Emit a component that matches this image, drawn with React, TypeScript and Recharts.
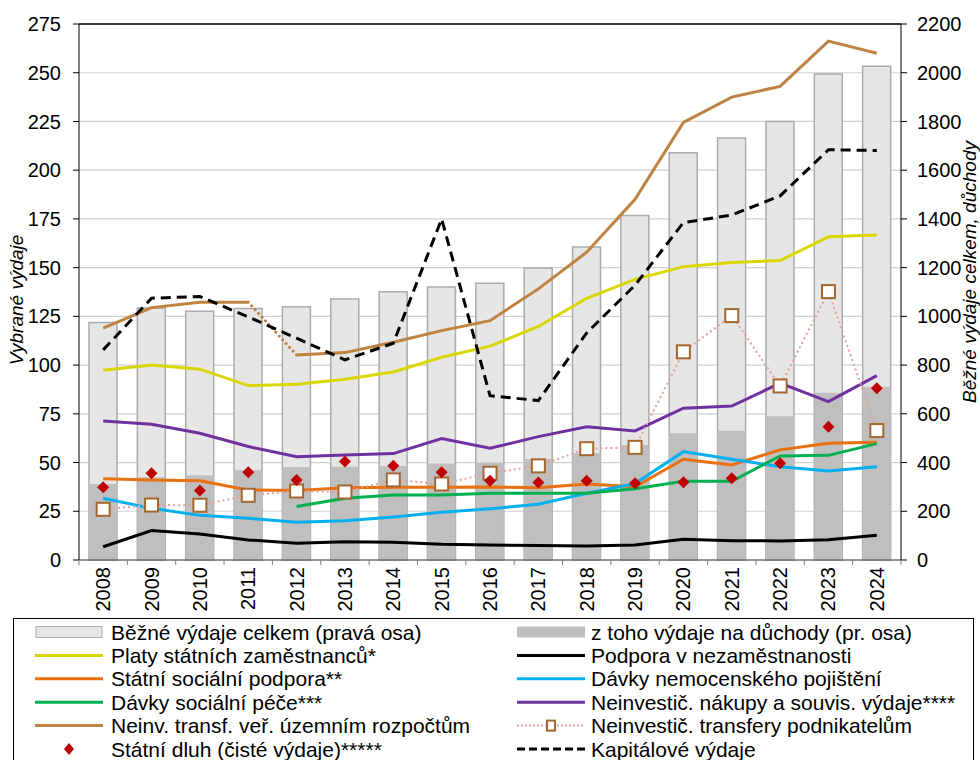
import {
  ComposedChart,
  Bar,
  Line,
  XAxis,
  YAxis,
  CartesianGrid,
  ReferenceLine,
} from "recharts";

const FONT = "Arial, 'Liberation Sans', sans-serif";

const years = [
  "2008", "2009", "2010", "2011", "2012", "2013", "2014", "2015", "2016",
  "2017", "2018", "2019", "2020", "2021", "2022", "2023", "2024",
];

// pravá osa
const totalCurrent = [975, 1034, 1021, 1032, 1039, 1071, 1101, 1121, 1136, 1198, 1285, 1414, 1672, 1732, 1800, 1995, 2027];
const pensions = [312, 340, 348, 368, 382, 383, 386, 396, 400, 415, 438, 472, 520, 531, 590, 686, 711];

// levá osa
const salaries = [97.4, 100.1, 97.9, 89.5, 90.2, 92.7, 96.5, 104, 109.7, 119.8, 134.3, 144, 150.5, 152.6, 153.6, 165.8, 166.8];
const unemployment = [6.8, 15.1, 13.3, 10.3, 8.6, 9.4, 9.1, 8.1, 7.7, 7.5, 7.2, 7.7, 10.6, 9.9, 9.8, 10.4, 12.7];
const stateSocial = [41.7, 41.1, 40.7, 35.9, 35.6, 37.1, 37.3, 37.3, 37.5, 37.1, 39.0, 37.6, 51.7, 48.8, 56.5, 59.9, 60.4];
const sickness = [31.7, 26.5, 22.9, 21.4, 19.4, 20.2, 22.1, 24.5, 26.3, 28.6, 34.2, 39.2, 55.6, 51.7, 47.9, 45.7, 47.9];
const socialCare = [null, null, null, null, 27.4, 31.7, 33.4, 33.4, 34.2, 34.2, 34.2, 36.6, 40.4, 40.4, 53.4, 53.7, 59.7];
const purchases = [71.3, 69.6, 65, 58.2, 53, 53.9, 54.6, 62.3, 57.3, 63.3, 68.4, 66.2, 77.9, 79, 90.7, 81.3, 94.6];
const territorialOld = [119, 129.5, 132.3, 132.3, null, null, null, null, null, null, null, null, null, null, null, null, null];
const territorialNew = [null, null, null, null, 105.2, 106.4, 111.7, 117.7, 122.8, 139.1, 157.9, 185.1, 224.5, 237.5, 243, 266.2, 260];
const territorialLink = [null, null, null, 132.3, 105.2, null, null, null, null, null, null, null, null, null, null, null, null];
const businessTransfers = [26, 28.2, 28.1, 33.2, 35.4, 34.9, 41.1, 39, 44.5, 48.3, 57.1, 57.8, 106.8, 125.4, 89.3, 137.7, 66.4];
const debt = [37.3, 44.5, 35.6, 45, 41.1, 50.5, 48.4, 45, 40.6, 39.7, 40.6, 39.4, 39.9, 41.9, 49.6, 68.4, 88.1];
const capital = [107.8, 134.3, 135.2, 124.7, 113.8, 102.7, 111.2, 175, 84.3, 81.8, 116.5, 141, 173.1, 177, 186.8, 210.5, 210.1];

const leftTicks = [0, 25, 50, 75, 100, 125, 150, 175, 200, 225, 250, 275];
const rightTicks = [0, 200, 400, 600, 800, 1000, 1200, 1400, 1600, 1800, 2000, 2200];

const data = years.map((year, i) => ({
  year,
  total: totalCurrent[i],
  pensions: pensions[i],
  salaries: salaries[i],
  unemployment: unemployment[i],
  stateSocial: stateSocial[i],
  sickness: sickness[i],
  socialCare: socialCare[i],
  purchases: purchases[i],
  territorialOld: territorialOld[i],
  territorialNew: territorialNew[i],
  territorialLink: territorialLink[i],
  businessTransfers: businessTransfers[i],
  debt: debt[i],
  capital: capital[i],
}));

const C = {
  light: "#E6E6E6",
  lightBorder: "#ABABAB",
  dark: "#BFBFBF",
  yellow: "#D8D800",
  black: "#000000",
  orange: "#E8700F",
  blue: "#00B0F0",
  green: "#00B050",
  purple: "#7030A0",
  brown: "#BE8241",
  pink: "#E6A0A0",
  squareBorder: "#A5662E",
  red: "#C00000",
};

const PLOT_LEFT = 79;
const PLOT_RIGHT = 901;
const BAND = (PLOT_RIGHT - PLOT_LEFT) / years.length;

const YearTick = (props: any) => {
  const { x, y, payload, index } = props;
  return (
    <g>
      <line x1={x - BAND / 2} x2={x - BAND / 2} y1={y - 8} y2={y - 3} stroke="#808080" />
      {index === years.length - 1 && (
        <line x1={x + BAND / 2} x2={x + BAND / 2} y1={y - 8} y2={y - 3} stroke="#808080" />
      )}
      <text
        transform={`translate(${x},${y - 1}) rotate(-90)`}
        textAnchor="end"
        dominantBaseline="central"
        fontSize={20}
        fontFamily={FONT}
        fill="#000"
      >
        {payload.value}
      </text>
    </g>
  );
};

const SquareDot = (props: any) => {
  const { cx, cy, index } = props;
  if (cx == null || cy == null) return <g key={`sq-${index}`} />;
  return (
    <rect
      key={`sq-${index}`}
      x={cx - 6.5}
      y={cy - 6.5}
      width={13}
      height={13}
      fill="#fff"
      stroke={C.squareBorder}
      strokeWidth={2}
    />
  );
};

const DiamondDot = (props: any) => {
  const { cx, cy, index } = props;
  if (cx == null || cy == null) return <g key={`dm-${index}`} />;
  const r = 6;
  return (
    <path
      key={`dm-${index}`}
      d={`M${cx},${cy - r} L${cx + r},${cy} L${cx},${cy + r} L${cx - r},${cy} Z`}
      fill={C.red}
    />
  );
};

type LegendItem = { label: string; kind: string; color: string };

const legendLeft: LegendItem[] = [
  { label: "Běžné výdaje celkem (pravá osa)", kind: "barLight", color: C.light },
  { label: "Platy státních zaměstnanců*", kind: "line", color: C.yellow },
  { label: "Státní sociální podpora**", kind: "line", color: C.orange },
  { label: "Dávky sociální péče***", kind: "line", color: C.green },
  { label: "Neinv. transf. veř. územním rozpočtům", kind: "line", color: C.brown },
  { label: "Státní dluh (čisté výdaje)*****", kind: "diamond", color: C.red },
];

const legendRight: LegendItem[] = [
  { label: "z toho výdaje na důchody (pr. osa)", kind: "barDark", color: C.dark },
  { label: "Podpora v nezaměstnanosti", kind: "line", color: C.black },
  { label: "Dávky nemocenského pojištění", kind: "line", color: C.blue },
  { label: "Neinvestič. nákupy a souvis. výdaje****", kind: "line", color: C.purple },
  { label: "Neinvestič. transfery podnikatelům", kind: "square", color: C.pink },
  { label: "Kapitálové výdaje", kind: "dashed", color: C.black },
];

const Swatch = ({ item, x, y }: { item: LegendItem; x: number; y: number }) => {
  const w = 68;
  switch (item.kind) {
    case "barLight":
      return <rect x={x + 1} y={y - 5.5} width={w - 2} height={11} fill={C.light} stroke={C.lightBorder} />;
    case "barDark":
      return <rect x={x} y={y - 5.5} width={w} height={11} fill={C.dark} />;
    case "diamond":
      return (
        <path
          d={`M${x + w / 2},${y - 6} L${x + w / 2 + 5},${y} L${x + w / 2},${y + 6} L${x + w / 2 - 5},${y} Z`}
          fill={C.red}
        />
      );
    case "square":
      return (
        <g>
          <line x1={x} x2={x + w} y1={y} y2={y} stroke={C.pink} strokeWidth={2} strokeDasharray="2 2" />
          <rect x={x + w / 2 - 4} y={y - 5} width={8} height={10} fill="#fff" stroke={C.squareBorder} strokeWidth={2} />
        </g>
      );
    case "dashed":
      return <line x1={x} x2={x + w} y1={y} y2={y} stroke="#000" strokeWidth={3} strokeDasharray="8 4" />;
    default:
      return <line x1={x} x2={x + w} y1={y} y2={y} stroke={item.color} strokeWidth={3} />;
  }
};

const ChartLegend = () => {
  const rowY = (i: number) => 632 + i * 23.4;
  return (
    <svg
      width={980}
      height={760}
      style={{ position: "absolute", left: 0, top: 0, pointerEvents: "none" }}
    >
      <rect x={13.5} y={618.5} width={960} height={160} fill="none" stroke="#000" />
      {legendLeft.map((item, i) => (
        <g key={item.label}>
          <Swatch item={item} x={35} y={rowY(i)} />
          <text x={111} y={rowY(i)} dominantBaseline="central" fontSize={21} fontFamily={FONT} fill="#000">
            {item.label}
          </text>
        </g>
      ))}
      {legendRight.map((item, i) => (
        <g key={item.label}>
          <Swatch item={item} x={517} y={rowY(i)} />
          <text x={591} y={rowY(i)} dominantBaseline="central" fontSize={21} fontFamily={FONT} fill="#000">
            {item.label}
          </text>
        </g>
      ))}
    </svg>
  );
};

const tickStyle = { fontSize: 20, fill: "#000", fontFamily: FONT };

const App = () => {
  return (
    <div style={{ position: "absolute", left: 0, top: 0, width: 980, height: 760, background: "#fff", fontFamily: FONT }}>
      <ComposedChart
        width={980}
        height={620}
        data={data}
        margin={{ top: 24, right: 0, bottom: 0, left: 0 }}
        barGap={-28}
      >
        <CartesianGrid yAxisId="left" vertical={false} stroke="#D0D0D0" strokeWidth={1.2} />
        <XAxis
          dataKey="year"
          height={60}
          axisLine={{ stroke: "#404040" }}
          tickLine={false}
          tickSize={5}
          tickMargin={3}
          interval={0}
          tick={<YearTick />}
        />
        <YAxis
          yAxisId="left"
          width={79}
          domain={[0, 275]}
          ticks={leftTicks}
          interval={0}
          axisLine={{ stroke: "#000" }}
          tickLine={{ stroke: "#000" }}
          tickSize={6}
          tickMargin={12}
          tick={tickStyle}
          label={{
            value: "Vybrané výdaje",
            content: () => (
              <text
                transform="translate(16,300) rotate(-90)"
                textAnchor="middle"
                dominantBaseline="central"
                fontSize={19}
                fontStyle="italic"
                fontFamily={FONT}
                fill="#000"
              >
                Vybrané výdaje
              </text>
            ),
          }}
        />
        <YAxis
          yAxisId="right"
          orientation="right"
          width={79}
          domain={[0, 2200]}
          ticks={rightTicks}
          interval={0}
          axisLine={{ stroke: "#000" }}
          tickLine={{ stroke: "#000" }}
          tickSize={6}
          tickMargin={10}
          tick={tickStyle}
          label={{
            value: "Běžné výdaje celkem, důchody",
            content: () => (
              <text
                transform="translate(969,272) rotate(-90)"
                textAnchor="middle"
                dominantBaseline="central"
                fontSize={19}
                fontStyle="italic"
                fontFamily={FONT}
                fill="#000"
              >
                Běžné výdaje celkem, důchody
              </text>
            ),
          }}
        />
        <ReferenceLine yAxisId="left" y={275} stroke="#000" strokeWidth={1.5} />

        <Bar yAxisId="right" dataKey="total" barSize={28} fill={C.light} stroke={C.lightBorder} strokeWidth={1.5} isAnimationActive={false} />
        <Bar yAxisId="right" dataKey="pensions" barSize={28} fill={C.dark} isAnimationActive={false} />

        <Line yAxisId="left" dataKey="salaries" stroke={C.yellow} strokeWidth={3} dot={false} activeDot={false} isAnimationActive={false} />
        <Line yAxisId="left" dataKey="unemployment" stroke={C.black} strokeWidth={3} dot={false} activeDot={false} isAnimationActive={false} />
        <Line yAxisId="left" dataKey="stateSocial" stroke={C.orange} strokeWidth={3} dot={false} activeDot={false} isAnimationActive={false} />
        <Line yAxisId="left" dataKey="sickness" stroke={C.blue} strokeWidth={3} dot={false} activeDot={false} isAnimationActive={false} />
        <Line yAxisId="left" dataKey="socialCare" stroke={C.green} strokeWidth={3} dot={false} activeDot={false} isAnimationActive={false} />
        <Line yAxisId="left" dataKey="purchases" stroke={C.purple} strokeWidth={3} dot={false} activeDot={false} isAnimationActive={false} />
        <Line yAxisId="left" dataKey="territorialOld" stroke={C.brown} strokeWidth={3} dot={false} activeDot={false} isAnimationActive={false} />
        <Line yAxisId="left" dataKey="territorialNew" stroke={C.brown} strokeWidth={3} dot={false} activeDot={false} isAnimationActive={false} />
        <Line
          yAxisId="left"
          dataKey="territorialLink"
          stroke={C.brown}
          strokeWidth={3}
          strokeDasharray="0.1 5"
          strokeLinecap="round"
          dot={false}
          activeDot={false}
          isAnimationActive={false}
        />
        <Line
          yAxisId="left"
          dataKey="capital"
          stroke={C.black}
          strokeWidth={3}
          strokeDasharray="10 6"
          dot={false}
          activeDot={false}
          isAnimationActive={false}
        />
        <Line
          yAxisId="left"
          dataKey="businessTransfers"
          stroke={C.pink}
          strokeWidth={2}
          strokeDasharray="2 3"
          dot={<SquareDot />}
          activeDot={false}
          isAnimationActive={false}
        />
        <Line
          yAxisId="left"
          dataKey="debt"
          stroke="none"
          dot={<DiamondDot />}
          activeDot={false}
          isAnimationActive={false}
        />
      </ComposedChart>
      <ChartLegend />
    </div>
  );
};

export default App;
